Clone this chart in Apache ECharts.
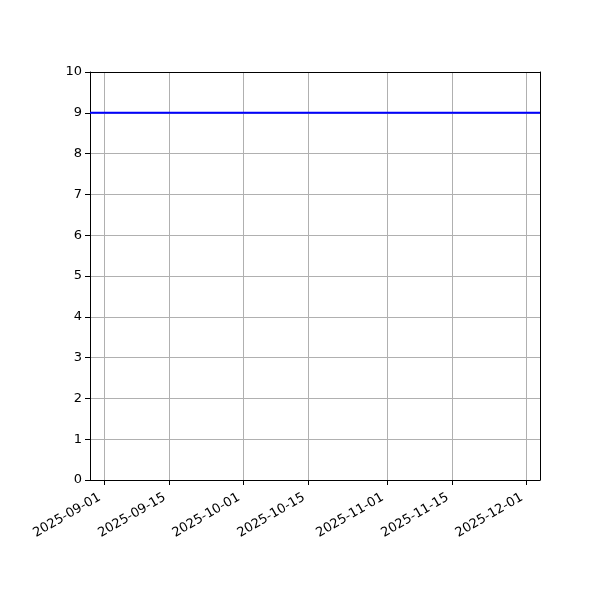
<!DOCTYPE html>
<html>
<head>
<meta charset="utf-8">
<script src="https://cdn.jsdelivr.net/npm/echarts@6/dist/echarts.min.js"></script>
<style>
  html, body { margin: 0; padding: 0; background: #fff; }
  #chart { width: 600px; height: 600px; }
</style>
</head>
<body>
<div id="chart"></div>
<script>
const DAY = 86400000;
const tickDates = ['2025-09-01', '2025-09-15', '2025-10-01', '2025-10-15', '2025-11-01', '2025-11-15', '2025-12-01'];
const lineDates = ['2025-08-29', '2025-12-04'];
const lineValues = [9, 9];
const yMin = 0, yMax = 10, yStep = 1;

const ts = s => Date.parse(s + 'T00:00:00Z');
const tickValues = tickDates.map(ts);
const xMin = ts('2025-09-01') - 3.02 * DAY;
const xMax = ts('2025-12-01') + 2.95 * DAY;

const fmt = v => {
    const d = new Date(v);
    const p = n => String(n).padStart(2, '0');
    return d.getUTCFullYear() + '-' + p(d.getUTCMonth() + 1) + '-' + p(d.getUTCDate());
};

const frame = { show: true, onZero: false, lineStyle: { color: '#000', width: 1 } };

const chart = echarts.init(document.getElementById('chart'));
chart.setOption({
    animation: false,
    textStyle: { fontFamily: 'DejaVu Sans' },
    grid: { left: 90, right: 60, top: 72, bottom: 120 },
    xAxis: [{
        type: 'value',
        min: xMin,
        max: xMax,
        z: 10,
        axisLine: frame,
        axisTick: { show: true, customValues: tickValues, length: 5, lineStyle: { color: '#000' } },
        axisLabel: {
            customValues: tickValues,
            formatter: fmt,
            rotate: 30,
            color: '#000',
            fontSize: 13,
            margin: 14,
            padding: [0, 5, 0, 0]
        },
        splitLine: { show: false }
    }, {
        type: 'value',
        position: 'top',
        min: xMin,
        max: xMax,
        z: 10,
        axisLine: frame,
        axisTick: { show: false },
        axisLabel: { show: false },
        splitLine: { show: false }
    }],
    yAxis: [{
        type: 'value',
        min: yMin,
        max: yMax,
        interval: yStep,
        axisLine: frame,
        axisTick: { show: true, length: 5, lineStyle: { color: '#000' } },
        axisLabel: { color: '#000', fontSize: 13, margin: 8 },
        splitLine: { show: true, showMinLine: false, showMaxLine: false, lineStyle: { color: '#b0b0b0', width: 1 } }
    }, {
        type: 'value',
        position: 'right',
        min: yMin,
        max: yMax,
        z: 10,
        axisLine: frame,
        axisTick: { show: false },
        axisLabel: { show: false },
        splitLine: { show: false }
    }],
    series: [{
        type: 'line',
        data: lineDates.map((d, i) => [i === 0 ? xMin : xMax, lineValues[i]]),
        showSymbol: false,
        lineStyle: { color: '#0000ff', width: 2 },
        z: 5,
        markLine: {
            silent: true,
            symbol: 'none',
            label: { show: false },
            lineStyle: { color: '#b0b0b0', width: 1, type: 'solid' },
            data: tickValues.map(v => ({ xAxis: v }))
        }
    }]
});
</script>
</body>
</html>
